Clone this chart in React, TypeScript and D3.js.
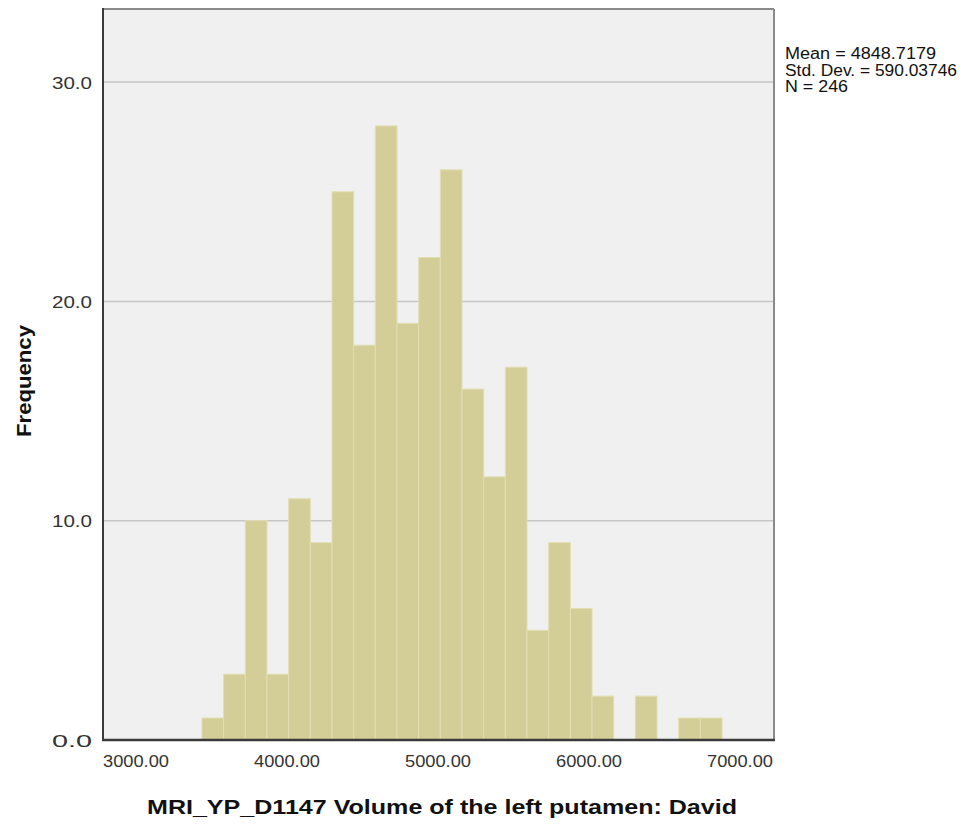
import React from "react";
import * as d3 from "d3";

const binStart = 3437;
const binWidth = 143.5;
const frequencies = [1, 3, 10, 3, 11, 9, 25, 18, 28, 19, 22, 26, 16, 12, 17, 5, 9, 6, 2, 0, 2, 0, 1, 1];
const xTicks = [3000, 4000, 5000, 6000, 7000];
const yTicks = [0, 10, 20, 30];
const statsLines = ["Mean = 4848.7179", "Std. Dev. = 590.03746", "N = 246"];
const statsWidths = [151, 172, 63];
const xTitle = "MRI_YP_D1147 Volume of the left putamen: David";
const yTitle = "Frequency";

const W = 970;
const H = 825;
const left = 103;
const right = 774;
const top = 9;
const bottom = 740;

export default function App() {
  const x = d3.scaleLinear().domain([3000, 7000]).range([136, 740]);
  const xDomain = [x.invert(left), x.invert(right)];
  const xs = d3.scaleLinear().domain(xDomain).range([left, right]);
  const y = d3.scaleLinear().domain([0, 10]).range([bottom, bottom - 219.3]);
  const font = "'Liberation Sans', Arial, sans-serif";

  const bins = frequencies.map((f, i) => ({
    x0: binStart + i * binWidth,
    x1: binStart + (i + 1) * binWidth,
    f,
  }));

  return (
    <svg
      width={W}
      height={H}
      style={{ position: "absolute", left: 0, top: 0, background: "#fff" }}
      fontFamily={font}
    >
      <rect x={left} y={top} width={right - left} height={bottom - top} fill="#f0f0f0" />
      {yTicks
        .filter((t) => t > 0)
        .map((t) => (
          <line key={t} x1={left} x2={right} y1={y(t)} y2={y(t)} stroke="#c6c6c6" strokeWidth={1.5} />
        ))}
      {bins
        .filter((b) => b.f > 0)
        .map((b, i) => (
          <rect
            key={i}
            x={xs(b.x0)}
            y={y(b.f)}
            width={xs(b.x1) - xs(b.x0)}
            height={y(0) - y(b.f)}
            fill="#d3ce97"
            stroke="#e2deb2"
            strokeWidth={1}
          />
        ))}
      <line x1={left} x2={right} y1={top} y2={top} stroke="#8a8a8a" strokeWidth={2} />
      <line x1={right} x2={right} y1={top} y2={bottom} stroke="#8a8a8a" strokeWidth={2} />
      <line x1={left} x2={left} y1={top - 1} y2={bottom + 1} stroke="#3a3a3a" strokeWidth={2} />
      <line x1={left - 1} x2={right + 1} y1={bottom} y2={bottom} stroke="#3a3a3a" strokeWidth={2.5} />
      {yTicks.map((t) => (
        <text
          key={t}
          x={92}
          y={y(t) + 6.5}
          textAnchor="end"
          fontSize={17}
          fill="#333"
          textLength={40}
          lengthAdjust="spacingAndGlyphs"
        >
          {t.toFixed(1)}
        </text>
      ))}
      {xTicks.map((t) => (
        <text
          key={t}
          x={x(t) - 33}
          y={767}
          fontSize={17}
          fill="#333"
          textLength={66}
          lengthAdjust="spacingAndGlyphs"
        >
          {t.toFixed(2)}
        </text>
      ))}
      {statsLines.map((s, i) => (
        <text
          key={i}
          x={785}
          y={59 + i * 16.5}
          fontSize={16}
          fill="#111"
          textLength={statsWidths[i]}
          lengthAdjust="spacingAndGlyphs"
        >
          {s}
        </text>
      ))}
      <text
        x={147}
        y={814}
        fontSize={20}
        fontWeight="bold"
        fill="#111"
        textLength={590}
        lengthAdjust="spacingAndGlyphs"
      >
        {xTitle}
      </text>
      <text
        transform={`translate(31, 437) rotate(-90)`}
        fontSize={20}
        fontWeight="bold"
        fill="#111"
        textLength={112}
        lengthAdjust="spacingAndGlyphs"
      >
        {yTitle}
      </text>
    </svg>
  );
}
